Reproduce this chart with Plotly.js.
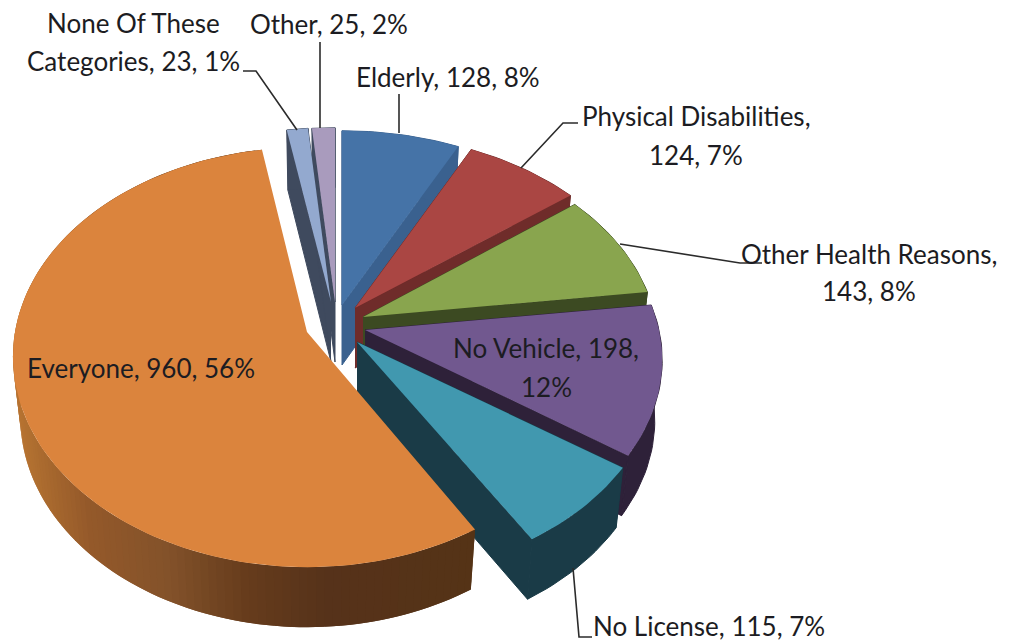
<!DOCTYPE html>
<html>
<head>
<meta charset="utf-8">
<script src="https://cdn.plot.ly/plotly-3.0.1.min.js"></script>
<style>html,body{margin:0;padding:0;background:#fff}#chart{width:1009px;height:641px}</style>
</head>
<body>
<div id="chart"></div>
<script>
// ---- data ----
const categories = ["Elderly", "Physical Disabilities", "Other Health Reasons", "No Vehicle", "No License", "Everyone", "None Of These Categories", "Other"];
const values = [128, 124, 143, 198, 115, 960, 23, 25];
const percentLabels = ["8%", "7%", "8%", "12%", "7%", "56%", "1%", "2%"];

// ---- styling and layout ----
const topColors = ["#4573a7", "#aa4643", "#89a54e", "#71588f", "#4198af", "#db843d", "#93a9cf", "#a99bbd"];
const wallColors = ["#3a618f", "#6f2c2a", "#3c4a22", "#2e2139", "#1a3b47", "#56331a", "#3f4a5e", "#3f4a5e"];
// where each exploded slice's tip lands on the page, and its projected radii
const tipX = [342, 355, 363, 365, 357, 307, 331, 335];
const tipY = [305, 308, 317, 330, 342, 332, 302, 302];
const sliceRX = [297, 297, 292, 294, 297, 292, 297, 297];
const sliceRY = [205, 205, 205, 205, 205, 210, 205, 205];
const slicePersp = [0.15, 0.15, 0.15, 0.15, 0.15, 0.12, 0.15, 0.15];
const DEPTH = 60, BASE_SHRINK = 0.975;
const drawOrder = [7, 6, 0, 1, 2, 3, 4, 5];
const orangeWallStops = [[15, [184, 116, 50]], [30, [176, 111, 48]], [90, [148, 89, 42]], [170, [131, 82, 42]], [250, [102, 60, 28]], [330, [86, 50, 26]], [480, [85, 51, 22]]];

// label lines: text pieces with their centre on the page
const labelPlacement = [
  {lines: i => [`${categories[i]}, ${values[i]}, ${percentLabels[i]}`], idx: 0, x: 448, y: [77]},
  {lines: i => [`${categories[i]},`, `${values[i]}, ${percentLabels[i]}`], idx: 1, x: 696, y: [116, 155]},
  {lines: i => [`${categories[i]},`, `${values[i]}, ${percentLabels[i]}`], idx: 2, x: 869, y: [254, 291]},
  {lines: i => [`${categories[i]}, ${values[i]},`, percentLabels[i]], idx: 3, x: 546, y: [348, 387]},
  {lines: i => [`${categories[i]}, ${values[i]}, ${percentLabels[i]}`], idx: 4, x: 709, y: [626]},
  {lines: i => [`${categories[i]}, ${values[i]}, ${percentLabels[i]}`], idx: 5, x: 141, y: [368]},
  {lines: i => ["None Of These", `Categories, ${values[i]}, ${percentLabels[i]}`], idx: 6, x: 133, y: [23, 61]},
  {lines: i => [`${categories[i]}, ${values[i]}, ${percentLabels[i]}`], idx: 7, x: 329, y: [24]}
];

const leaders = [
  [[243, 71], [256, 71], [297, 130]],
  [[320, 42], [320, 128]],
  [[399, 94], [399, 133]],
  [[578, 123], [563, 123], [521, 168]],
  [[620, 244], [740, 263], [762, 263]],
  [[573, 568], [579, 637], [592, 637]]
];

// ---- geometry: angles come from the values ----
const total = values.reduce((a, b) => a + b, 0);
let cum = 0;
const angles = values.map(v => { const a0 = cum / total * 360; cum += v; return [a0, cum / total * 360]; });

function project(i, deg) {
  const t = deg * Math.PI / 180, X = Math.sin(t), Z = Math.cos(t), f = 1 - slicePersp[i] * Z;
  return [sliceRX[i] * X * f, -sliceRY[i] * Z * f];
}
const topPt = (i, deg) => { const p = project(i, deg); return [tipX[i] + p[0], tipY[i] + p[1]]; };
const basePt = (i, deg) => { const p = project(i, deg); return [tipX[i] + p[0] * BASE_SHRINK, tipY[i] + p[1] + DEPTH]; };
function arcAngles(a0, a1) {
  const n = Math.max(2, Math.ceil((a1 - a0) / 1.5)), out = [];
  for (let k = 0; k <= n; k++) out.push(a0 + (a1 - a0) * k / n);
  return out;
}
function polyTrace(pts, color, lineW) {
  return {type: "scatter", mode: "lines", x: pts.map(p => p[0]), y: pts.map(p => p[1]), fill: "toself", fillcolor: color,
    line: {color: color, width: lineW}, hoverinfo: "skip", showlegend: false};
}
function orangeWallColor(x) {
  for (let k = 1; k < orangeWallStops.length; k++) {
    const [x1, c1] = orangeWallStops[k], [x0, c0] = orangeWallStops[k - 1];
    if (x <= x1) {
      const u = Math.max(0, (x - x0) / (x1 - x0));
      return `rgb(${c0.map((c, j) => Math.round(c + (c1[j] - c) * u)).join(",")})`;
    }
  }
  return "rgb(85,51,22)";
}

const traces = [];
drawOrder.forEach(i => {
  const [a0, a1] = angles[i];
  const arc = arcAngles(a0, a1);
  const tip = [tipX[i], tipY[i]], tipB = [tipX[i], tipY[i] + DEPTH];
  if (i === 5) {
    // gradient wall along the rim, each band overlapping the one before it
    for (let k = arc.length - 2; k >= 0; k--) {
      const seg = arc.slice(Math.max(0, k - 1), k + 2);
      const mx = topPt(i, arc[k])[0];
      traces.push(polyTrace(seg.map(d => topPt(i, d)).concat(seg.slice().reverse().map(d => basePt(i, d))), orangeWallColor(mx), 0));
    }
  } else {
    traces.push(polyTrace([tip, topPt(i, a0), basePt(i, a0), tipB], wallColors[i], 1));
    traces.push(polyTrace([tip, topPt(i, a1), basePt(i, a1), tipB], wallColors[i], 1));
    traces.push(polyTrace(arc.map(d => topPt(i, d)).concat(arc.slice().reverse().map(d => basePt(i, d))), wallColors[i], 1));
  }
  traces.push(polyTrace([tip].concat(arc.map(d => topPt(i, d))), topColors[i], 0));
  traces[traces.length - 1].name = categories[i];
});

const annotations = [];
labelPlacement.forEach(l => {
  l.lines(l.idx).forEach((txt, k) => {
    annotations.push({xref: "x", yref: "y", x: l.x, y: l.y[k], text: txt, showarrow: false,
      xanchor: "center", yanchor: "middle",
      font: {family: "Lato, 'Open Sans', sans-serif", size: 26, color: "#1c1c22"}});
  });
});

const shapes = leaders.map(pts => ({
  type: "path", xref: "x", yref: "y",
  path: pts.map((p, k) => (k ? "L" : "M") + p[0] + "," + p[1]).join(" "),
  line: {color: "#2b2b2b", width: 1.6}, fillcolor: "rgba(0,0,0,0)"
}));

Plotly.newPlot("chart", traces, {
  width: 1009, height: 641,
  margin: {l: 0, r: 0, t: 0, b: 0},
  paper_bgcolor: "#ffffff", plot_bgcolor: "#ffffff",
  showlegend: false,
  xaxis: {range: [0, 1009], visible: false, fixedrange: true},
  yaxis: {range: [641, 0], visible: false, fixedrange: true},
  annotations: annotations, shapes: shapes
}, {displayModeBar: false, staticPlot: true});
</script>
</body>
</html>
